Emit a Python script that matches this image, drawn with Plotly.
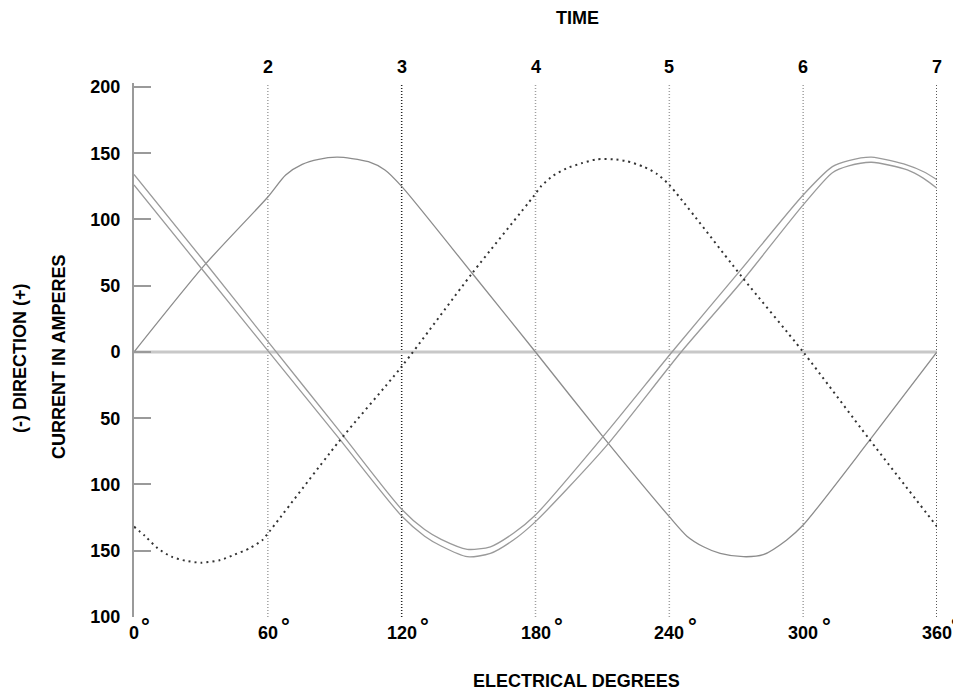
import plotly.graph_objects as go

# ---------------- data ----------------
# Phase A (single solid line, starts at 0)
A_deg = [0, 31.7, 60, 68, 75.4, 82.8, 91, 97.7, 105.1, 112.5, 120, 151.6, 180,
         211.2, 240, 247.9, 255.3, 262.8, 273.2, 282.1, 292.5, 300, 329.9, 360]
A_val = [0, 65.7, 117, 133.6, 141.6, 145.4, 147, 146, 143.6, 137.4, 125, 59.4, 0,
         -66, -124.3, -139, -147, -152, -154.5, -153, -142, -130.6, -66.4, 0]

# Phase B (dotted line)
B_deg = [0, 5.0, 10.5, 16.8, 23.0, 30.1, 38.7, 45, 52, 57.5, 60, 91.8, 120, 151.6,
         179, 182.6, 187.9, 193.9, 200.6, 207.4, 214.9, 220.9, 228.5, 234.5, 240,
         272.4, 300, 329.9, 360]
B_val = [-131.8, -139, -148, -154.5, -157.5, -159, -157, -153, -148, -142, -137,
         -67.7, -11, 59.4, 117.2, 125.3, 133, 138.6, 142.4, 145.4, 145.4, 144,
         139.8, 134.3, 126, 57, 0, -66.4, -131.8]

# Phase C (double line: two close strokes)
C1_deg = [0, 31.7, 60, 91.8, 120, 130.3, 137.7, 149.4, 159.8, 170.1, 180, 211.2,
          241.2, 272.4, 300, 313.1, 320.4, 330.6, 346.7, 354, 360]
C1_val = [134, 67.9, 8, -59, -118.7, -134, -141.4, -148.9, -147, -136.8, -123, -62,
          0, 62.7, 118.5, 139.9, 144.4, 147, 141, 136, 130]
C2_deg = [0, 31.7, 60, 91.8, 120, 130.3, 137.7, 149.4, 159.8, 170.1, 180, 211.2,
          245.3, 272.4, 300, 313.1, 320.4, 330.6, 346.7, 354, 360]
C2_val = [126, 60, 1, -65, -123.8, -139, -146.4, -154.5, -152, -141.9, -128, -72,
          0, 53, 111, 135.3, 140.4, 143.2, 137.4, 131, 123.5]

# axes / labels
X_TICKS = [0, 60, 120, 180, 240, 300, 360]
TIME_POS = [60, 120, 180, 240, 300, 360]
TIME_LABELS = ["2", "3", "4", "5", "6", "7"]
Y_TICKS = [200, 150, 100, 50, 0, -50, -100, -150, -200]
Y_LABELS = ["200", "150", "100", "50", "0", "50", "100", "150", "100"]
DARK_LINES = [120, 360]

FONT = "Liberation Sans, Arial, Helvetica, sans-serif"

fig = go.Figure()

# zero line
fig.add_shape(type="line", x0=0, x1=360, y0=0, y1=0, xref="x", yref="y",
              line=dict(color="#c8c8c8", width=3), layer="below")

# vertical time lines
for v in TIME_POS:
    dark = v in DARK_LINES
    fig.add_shape(type="line", x0=v, x1=v, y0=0, y1=1, xref="x", yref="paper",
                  line=dict(color="#222222" if dark else "#a0a0a0",
                            width=1.5, dash="1px,2px"),
                  layer="below")

line_common = dict(shape="spline", smoothing=0.7)

fig.add_trace(go.Scatter(x=A_deg, y=A_val, mode="lines",
                         line=dict(color="#8c8c8c", width=1.3, **line_common),
                         hoverinfo="skip"))
fig.add_trace(go.Scatter(x=C1_deg, y=C1_val, mode="lines",
                         line=dict(color="#9a9a9a", width=1.3, **line_common),
                         hoverinfo="skip"))
fig.add_trace(go.Scatter(x=C2_deg, y=C2_val, mode="lines",
                         line=dict(color="#9a9a9a", width=1.3, **line_common),
                         hoverinfo="skip"))
fig.add_trace(go.Scatter(x=B_deg, y=B_val, mode="lines",
                         line=dict(color="#333333", width=2, dash="2px,4px",
                                   **line_common),
                         hoverinfo="skip"))

annotations = []
# x tick labels with degree signs
for v in X_TICKS:
    s = str(v)
    annotations.append(dict(x=v, y=0, xref="x", yref="paper", text="<b>%s</b>" % s,
                            showarrow=False, xanchor="center", yanchor="middle",
                            yshift=-16, font=dict(family=FONT, size=18, color="black")))
    off = {1: 11, 2: 18, 3: 23}[len(s)]
    if v == X_TICKS[-1]:
        off = 18  # keep the last degree sign inside the window
    annotations.append(dict(x=v, y=0, xref="x", yref="paper", text="<b>°</b>",
                            showarrow=False, xanchor="center", yanchor="middle",
                            xshift=off, yshift=-9,
                            font=dict(family=FONT, size=22, color="black")))
# time labels on top
for v, t in zip(TIME_POS, TIME_LABELS):
    annotations.append(dict(x=v, y=1, xref="x", yref="paper", text="<b>%s</b>" % t,
                            showarrow=False, xanchor="center", yanchor="middle",
                            yshift=16, font=dict(family=FONT, size=18, color="black")))
# titles
annotations.append(dict(x=0.5517, y=1, xref="paper", yref="paper", text="<b>TIME</b>",
                        showarrow=False, xanchor="center", yanchor="middle", yshift=65,
                        font=dict(family=FONT, size=18, color="black")))
annotations.append(dict(x=0.551, y=0, xref="paper", yref="paper",
                        text="<b>ELECTRICAL DEGREES</b>",
                        showarrow=False, xanchor="center", yanchor="middle", yshift=-64,
                        font=dict(family=FONT, size=18, color="black")))
annotations.append(dict(x=0, y=0.483, xref="paper", yref="paper",
                        text="<b>(-) DIRECTION (+)</b>", textangle=-90,
                        showarrow=False, xanchor="center", yanchor="middle", xshift=-114,
                        font=dict(family=FONT, size=18, color="black")))
annotations.append(dict(x=0, y=0.487, xref="paper", yref="paper",
                        text="<b>CURRENT IN AMPERES</b>", textangle=-90,
                        showarrow=False, xanchor="center", yanchor="middle", xshift=-75,
                        font=dict(family=FONT, size=18, color="black")))

# the page body adds an 8px offset, so the figure is sized to fit the window
fig.update_layout(
    width=953, height=685,
    margin=dict(l=126, r=24, t=75, b=76, pad=0),
    plot_bgcolor="white", paper_bgcolor="white",
    showlegend=False,
    annotations=annotations,
    xaxis=dict(range=[0, 360], showgrid=False, zeroline=False, showline=False,
               showticklabels=False, ticks=""),
    yaxis=dict(range=[-200, 203], tickvals=Y_TICKS,
               ticktext=["<b>%s</b>" % t for t in Y_LABELS],
               ticks="inside", ticklen=17, tickwidth=2, tickcolor="#9a9a9a",
               showline=True, linecolor="#9a9a9a", linewidth=2,
               showgrid=False, zeroline=False, ticklabelstandoff=8,
               tickfont=dict(family=FONT, size=18, color="black")),
)

fig.write_html("out.html")
